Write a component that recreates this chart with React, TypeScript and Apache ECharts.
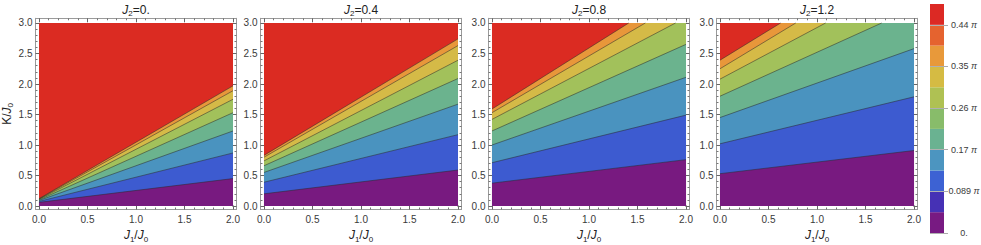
import React, { useEffect, useRef } from "react";
import * as echarts from "echarts";

// ---------- data ----------
const J1_MIN = 0;
const J1_MAX = 2;
const K_MIN = 0;
const K_MAX = 3;

const panelJ2Labels = ["0.", "0.4", "0.8", "1.2"];

const xMajorTicks = [0, 0.5, 1, 1.5, 2];
const xMinorTicks = [0.1, 0.2, 0.3, 0.4, 0.6, 0.7, 0.8, 0.9, 1.1, 1.2, 1.3, 1.4, 1.6, 1.7, 1.8, 1.9];
const yMajorTicks = [0, 0.5, 1, 1.5, 2, 2.5, 3];
const yMinorTicks = [0.1, 0.2, 0.3, 0.4, 0.6, 0.7, 0.8, 0.9, 1.1, 1.2, 1.3, 1.4, 1.6, 1.7, 1.8, 1.9, 2.1, 2.2, 2.3, 2.4, 2.6, 2.7, 2.8, 2.9];

// contour boundaries (K/J0), bottom to top, at J1/J0 = 0 and J1/J0 = 2
const j2_00_atJ1_0 = [0.06, 0.075, 0.09, 0.1, 0.11, 0.115, 0.12];
const j2_00_atJ1_2 = [0.45, 0.87, 1.23, 1.53, 1.75, 1.89, 1.97];
const j2_04_atJ1_0 = [0.2, 0.39, 0.55, 0.66, 0.74, 0.8, 0.83];
const j2_04_atJ1_2 = [0.59, 1.17, 1.67, 2.09, 2.39, 2.63, 2.74];
const j2_08_atJ1_0 = [0.375, 0.71, 1.0, 1.23, 1.42, 1.53, 1.59];
const j2_08_atJ1_2 = [0.76, 1.49, 2.11, 2.65, 3.09, 3.39, 3.59];
const j2_12_atJ1_0 = [0.53, 1.02, 1.45, 1.8, 2.08, 2.25, 2.39];
const j2_12_atJ1_2 = [0.91, 1.79, 2.58, 3.24, 3.77, 4.17, 4.34];

const panelContours = [
  [j2_00_atJ1_0, j2_00_atJ1_2],
  [j2_04_atJ1_0, j2_04_atJ1_2],
  [j2_08_atJ1_0, j2_08_atJ1_2],
  [j2_12_atJ1_0, j2_12_atJ1_2],
];

// band colours, bottom to top
const bandColors = ["#781a80", "#3d5bd0", "#4a93bf", "#6bb38e", "#a2c15b", "#d5ba47", "#e8973a", "#db2b22"];

// colour bar
const legendColors = ["#781a82", "#4631b5", "#3d62d3", "#4c95c0", "#6ab291", "#88bc6a", "#afc153", "#d5bb43", "#e8993a", "#e5632f", "#dc2924"];
const legendTickPositions = [0, 2, 4, 6, 8, 10];
const legendTickLabels = ["0.", "0.089", "0.17", "0.26", "0.35", "0.44"];

// ---------- layout / style ----------
const FONT = "'Liberation Sans', Arial, Helvetica, sans-serif";
const gridLefts = [35.5, 260.5, 488.5, 716.5];
const gridWidth = 201;
const gridTop = 18.3;
const gridHeight = 191.2;
const padX = 0.036;
const padYBottom = 0.057;
const padYTop = 0.077;
const frameColor = "#9a9a9a";
const labelColor = "#3a3a3a";
const titleColor = "#222";

const rich = (size: number, color: string) => ({
  i: { fontStyle: "italic", fontSize: size, lineHeight: size + 4, color, fontFamily: FONT },
  u: { fontSize: size, lineHeight: size + 4, color, fontFamily: FONT },
  s: { fontSize: Math.round(size * 0.7), lineHeight: size - 1, verticalAlign: "bottom", color, fontFamily: FONT },
});

function clipTop(a: number, b: number) {
  if (b <= K_MAX) {
    return { fill: [[J1_MIN, a], [J1_MAX, b]], line: [[J1_MIN, a], [J1_MAX, b]] };
  }
  const xc = J1_MIN + ((K_MAX - a) / (b - a)) * (J1_MAX - J1_MIN);
  return {
    fill: [[J1_MIN, a], [xc, K_MAX], [J1_MAX, K_MAX]],
    line: [[J1_MIN, a], [xc, K_MAX]],
  };
}

function buildOption() {
  const grid: any[] = [];
  const xAxis: any[] = [];
  const yAxis: any[] = [];
  const series: any[] = [];

  panelJ2Labels.forEach((j2, p) => {
    grid.push({ left: gridLefts[p], top: gridTop, width: gridWidth, height: gridHeight, containLabel: false, outerBoundsMode: "none" });
    const xb = {
      type: "value",
      gridIndex: p,
      min: J1_MIN - padX,
      max: J1_MAX + padX,
      splitLine: { show: false },
      axisLine: { show: true, onZero: false, lineStyle: { color: frameColor, width: 1 } },
    };
    const yb = {
      type: "value",
      gridIndex: p,
      min: K_MIN - padYBottom,
      max: K_MAX + padYTop,
      splitLine: { show: false },
      axisLine: { show: true, onZero: false, lineStyle: { color: frameColor, width: 1 } },
    };
    const major = (vals: number[]) => ({ show: true, inside: true, length: 4, customValues: vals, lineStyle: { color: "#666", width: 1 } });
    const minor = (vals: number[]) => ({ show: true, inside: true, length: 2, customValues: vals, lineStyle: { color: "#777", width: 1 } });
    const lab = (vals: number[], margin: number) => ({
      show: true,
      customValues: vals,
      formatter: (v: number) => v.toFixed(1),
      color: labelColor,
      fontSize: 10,
      fontFamily: FONT,
      margin,
    });

    // x axes: bottom major, bottom minor, top major, top minor
    xAxis.push({
      ...xb,
      position: "bottom",
      axisTick: major(xMajorTicks),
      axisLabel: lab(xMajorTicks, 5),
      name: "{i|J}{s|1}{u|/}{i|J}{s|0}",
      nameLocation: "middle",
      nameGap: 12,
      nameTextStyle: { rich: rich(12, titleColor) },
    });
    xAxis.push({ ...xb, position: "bottom", axisLine: { show: false, onZero: false }, axisTick: minor(xMinorTicks), axisLabel: { show: false } });
    xAxis.push({
      ...xb,
      position: "top",
      axisTick: major(xMajorTicks),
      axisLabel: { show: false },
      name: "{i|J}{s|2}{u|=" + j2 + "}",
      nameLocation: "middle",
      nameGap: 0.5,
      nameTextStyle: { rich: rich(12, titleColor) },
    });
    xAxis.push({ ...xb, position: "top", axisLine: { show: false, onZero: false }, axisTick: minor(xMinorTicks), axisLabel: { show: false } });

    // y axes: left major, left minor, right major, right minor
    yAxis.push({
      ...yb,
      position: "left",
      axisTick: major(yMajorTicks),
      axisLabel: lab(yMajorTicks, 3),
      ...(p === 0
        ? {
            name: "{u|K/}{i|J}{s|0}",
            nameLocation: "middle",
            nameGap: 20,
            nameTextStyle: { rich: rich(12, titleColor) },
          }
        : {}),
    });
    yAxis.push({ ...yb, position: "left", axisLine: { show: false, onZero: false }, axisTick: minor(yMinorTicks), axisLabel: { show: false } });
    yAxis.push({ ...yb, position: "right", axisTick: major(yMajorTicks), axisLabel: { show: false } });
    yAxis.push({ ...yb, position: "right", axisLine: { show: false, onZero: false }, axisTick: minor(yMinorTicks), axisLabel: { show: false } });

    const xi = p * 4;
    const yi = p * 4;
    const [left, right] = panelContours[p];
    const nBands = bandColors.length;

    // top (red) band
    series.push({
      type: "line",
      xAxisIndex: xi,
      yAxisIndex: yi,
      data: [[J1_MIN, K_MAX], [J1_MAX, K_MAX]],
      symbol: "none",
      lineStyle: { width: 0 },
      areaStyle: { color: bandColors[nBands - 1], opacity: 1 },
      silent: true,
      z: 2,
    });
    for (let k = left.length - 1; k >= 0; k--) {
      const c = clipTop(left[k], right[k]);
      series.push({
        type: "line",
        xAxisIndex: xi,
        yAxisIndex: yi,
        data: c.fill,
        symbol: "none",
        lineStyle: { width: 0 },
        areaStyle: { color: bandColors[k], opacity: 1 },
        silent: true,
        z: 2,
      });
      series.push({
        type: "line",
        xAxisIndex: xi,
        yAxisIndex: yi,
        data: c.line,
        symbol: "none",
        lineStyle: { color: "#2a2a2a", width: 0.7, opacity: 0.75 },
        silent: true,
        z: 2,
      });
    }
  });

  // colour bar legend
  const lg = grid.length;
  grid.push({ left: 930, top: 4, width: 14, height: 229, containLabel: false, outerBoundsMode: "none" });
  const lx = xAxis.length;
  xAxis.push({ type: "category", gridIndex: lg, data: ["c"], show: false });
  const ly = yAxis.length;
  yAxis.push({
    type: "value",
    gridIndex: lg,
    position: "right",
    min: 0,
    max: legendColors.length,
    splitLine: { show: false },
    axisLine: { show: false },
    axisTick: { show: true, length: 4, customValues: legendTickPositions, lineStyle: { color: "#aaa", width: 1 } },
    axisLabel: {
      show: true,
      customValues: legendTickPositions,
      align: "center",
      margin: 20,
      formatter: (v: number) => {
        const idx = legendTickPositions.indexOf(v);
        const t = legendTickLabels[idx];
        return idx === 0 ? "{n|" + t + "}" : "{n|" + t + " }{p|π}";
      },
      rich: {
        n: { fontSize: 9, color: labelColor, fontFamily: FONT },
        p: { fontSize: 9, fontStyle: "italic", color: labelColor, fontFamily: FONT },
      },
    },
  });
  legendColors.forEach((col, i) => {
    series.push({
      type: "bar",
      xAxisIndex: lx,
      yAxisIndex: ly,
      stack: "legend",
      data: [1],
      barWidth: "100%",
      itemStyle: { color: col },
      silent: true,
      ...(i === legendColors.length - 1
        ? {
            markLine: {
              silent: true,
              symbol: ["none", "none"],
              label: { show: false },
              lineStyle: { color: "#b0b0b0", width: 1, type: "solid" },
              data: legendTickPositions.map((v) => ({ yAxis: v })),
              z: 10,
            },
          }
        : {}),
    });
  });

  return {
    animation: false,
    backgroundColor: "#ffffff",
    textStyle: { fontFamily: FONT },
    grid,
    xAxis,
    yAxis,
    series,
  };
}

export default function App() {
  const ref = useRef<HTMLDivElement>(null);
  useEffect(() => {
    if (!ref.current) return;
    const chart = echarts.init(ref.current, undefined, { renderer: "svg" });
    chart.setOption(buildOption() as any);
    return () => chart.dispose();
  }, []);
  return (
    <div
      ref={ref}
      style={{ position: "absolute", left: 0, top: 0, width: 981, height: 245, background: "#fff" }}
    />
  );
}
